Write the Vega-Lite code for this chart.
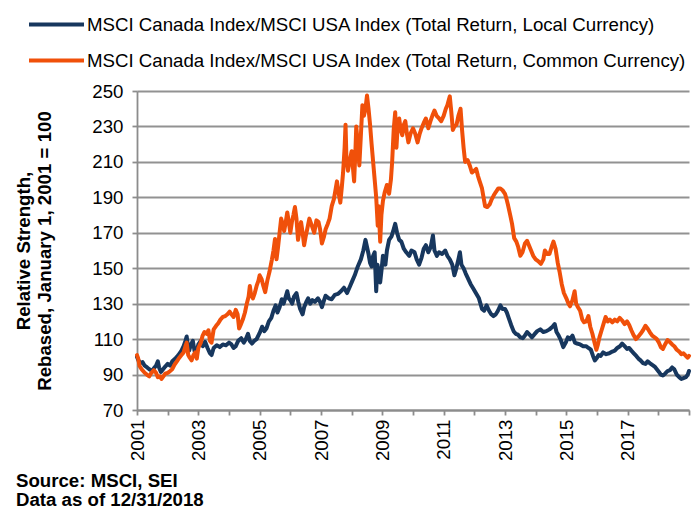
{
  "$schema": "https://vega.github.io/schema/vega-lite/v6.json",
  "width": 552,
  "height": 319,
  "autosize": "none",
  "padding": {"left": 137, "top": 91, "right": 7, "bottom": 100},
  "background": "white",
  "config": {
    "font": "Liberation Sans",
    "view": {"stroke": null},
    "axis": {
      "labelFont": "Liberation Sans",
      "labelFontSize": 18.67,
      "labelColor": "#000000",
      "domainColor": "#8c8c8c",
      "domainWidth": 1.8,
      "tickColor": "#8c8c8c",
      "tickWidth": 1.8,
      "tickSize": 5,
      "gridColor": "#929292",
      "gridWidth": 1.8
    },
    "legend": {"padding": 0}
  },
  "title": {
    "text": ["Source: MSCI, SEI", "Data as of 12/31/2018"],
    "orient": "bottom",
    "anchor": "start",
    "frame": "group",
    "dx": -121,
    "offset": 11,
    "fontSize": 18.67,
    "fontWeight": "bold",
    "lineHeight": 19,
    "color": "#000000",
    "font": "Liberation Sans"
  },
  "data": {
    "values": [
      {"year": 2001.00, "series": "Local", "value": 100},
      {"year": 2001.05, "series": "Local", "value": 98},
      {"year": 2001.10, "series": "Local", "value": 96.5},
      {"year": 2001.18, "series": "Local", "value": 97},
      {"year": 2001.25, "series": "Local", "value": 95},
      {"year": 2001.33, "series": "Local", "value": 94},
      {"year": 2001.40, "series": "Local", "value": 93},
      {"year": 2001.50, "series": "Local", "value": 92},
      {"year": 2001.55, "series": "Local", "value": 93.5},
      {"year": 2001.62, "series": "Local", "value": 95},
      {"year": 2001.68, "series": "Local", "value": 97.5},
      {"year": 2001.72, "series": "Local", "value": 94},
      {"year": 2001.78, "series": "Local", "value": 91.5},
      {"year": 2001.85, "series": "Local", "value": 93},
      {"year": 2001.92, "series": "Local", "value": 94.5},
      {"year": 2002.00, "series": "Local", "value": 96},
      {"year": 2002.08, "series": "Local", "value": 95},
      {"year": 2002.15, "series": "Local", "value": 97.5},
      {"year": 2002.25, "series": "Local", "value": 99},
      {"year": 2002.35, "series": "Local", "value": 101},
      {"year": 2002.45, "series": "Local", "value": 103.5},
      {"year": 2002.52, "series": "Local", "value": 106},
      {"year": 2002.58, "series": "Local", "value": 109},
      {"year": 2002.62, "series": "Local", "value": 111.5},
      {"year": 2002.66, "series": "Local", "value": 106},
      {"year": 2002.70, "series": "Local", "value": 103.5},
      {"year": 2002.76, "series": "Local", "value": 107},
      {"year": 2002.82, "series": "Local", "value": 109},
      {"year": 2002.88, "series": "Local", "value": 103},
      {"year": 2002.93, "series": "Local", "value": 101.5},
      {"year": 2003.00, "series": "Local", "value": 107},
      {"year": 2003.08, "series": "Local", "value": 109},
      {"year": 2003.15, "series": "Local", "value": 106},
      {"year": 2003.22, "series": "Local", "value": 108.5},
      {"year": 2003.30, "series": "Local", "value": 105},
      {"year": 2003.38, "series": "Local", "value": 102},
      {"year": 2003.43, "series": "Local", "value": 101},
      {"year": 2003.50, "series": "Local", "value": 105},
      {"year": 2003.60, "series": "Local", "value": 106.5},
      {"year": 2003.70, "series": "Local", "value": 105.5},
      {"year": 2003.80, "series": "Local", "value": 107},
      {"year": 2003.90, "series": "Local", "value": 106.5},
      {"year": 2004.00, "series": "Local", "value": 108},
      {"year": 2004.08, "series": "Local", "value": 107},
      {"year": 2004.15, "series": "Local", "value": 105},
      {"year": 2004.22, "series": "Local", "value": 106},
      {"year": 2004.30, "series": "Local", "value": 109},
      {"year": 2004.40, "series": "Local", "value": 110.5},
      {"year": 2004.48, "series": "Local", "value": 108},
      {"year": 2004.55, "series": "Local", "value": 110},
      {"year": 2004.62, "series": "Local", "value": 113},
      {"year": 2004.68, "series": "Local", "value": 109},
      {"year": 2004.75, "series": "Local", "value": 107.5},
      {"year": 2004.82, "series": "Local", "value": 109},
      {"year": 2004.90, "series": "Local", "value": 110},
      {"year": 2005.00, "series": "Local", "value": 113.5},
      {"year": 2005.08, "series": "Local", "value": 117},
      {"year": 2005.15, "series": "Local", "value": 114.5},
      {"year": 2005.22, "series": "Local", "value": 116},
      {"year": 2005.30, "series": "Local", "value": 120},
      {"year": 2005.38, "series": "Local", "value": 122},
      {"year": 2005.45, "series": "Local", "value": 126},
      {"year": 2005.52, "series": "Local", "value": 129},
      {"year": 2005.58, "series": "Local", "value": 125},
      {"year": 2005.65, "series": "Local", "value": 128},
      {"year": 2005.72, "series": "Local", "value": 132.5},
      {"year": 2005.78, "series": "Local", "value": 130},
      {"year": 2005.85, "series": "Local", "value": 134},
      {"year": 2005.90, "series": "Local", "value": 137},
      {"year": 2005.95, "series": "Local", "value": 133},
      {"year": 2006.00, "series": "Local", "value": 132},
      {"year": 2006.06, "series": "Local", "value": 130},
      {"year": 2006.12, "series": "Local", "value": 134},
      {"year": 2006.20, "series": "Local", "value": 136},
      {"year": 2006.26, "series": "Local", "value": 131},
      {"year": 2006.32, "series": "Local", "value": 127},
      {"year": 2006.40, "series": "Local", "value": 124},
      {"year": 2006.45, "series": "Local", "value": 128},
      {"year": 2006.52, "series": "Local", "value": 131},
      {"year": 2006.58, "series": "Local", "value": 133},
      {"year": 2006.65, "series": "Local", "value": 130},
      {"year": 2006.72, "series": "Local", "value": 132},
      {"year": 2006.80, "series": "Local", "value": 131},
      {"year": 2006.90, "series": "Local", "value": 133},
      {"year": 2006.97, "series": "Local", "value": 131},
      {"year": 2007.03, "series": "Local", "value": 128},
      {"year": 2007.10, "series": "Local", "value": 132},
      {"year": 2007.15, "series": "Local", "value": 134.5},
      {"year": 2007.25, "series": "Local", "value": 133},
      {"year": 2007.35, "series": "Local", "value": 132.5},
      {"year": 2007.45, "series": "Local", "value": 135},
      {"year": 2007.55, "series": "Local", "value": 135.5},
      {"year": 2007.65, "series": "Local", "value": 137},
      {"year": 2007.75, "series": "Local", "value": 139},
      {"year": 2007.85, "series": "Local", "value": 136},
      {"year": 2007.95, "series": "Local", "value": 140},
      {"year": 2008.00, "series": "Local", "value": 142},
      {"year": 2008.10, "series": "Local", "value": 146},
      {"year": 2008.20, "series": "Local", "value": 151},
      {"year": 2008.30, "series": "Local", "value": 155},
      {"year": 2008.38, "series": "Local", "value": 160},
      {"year": 2008.45, "series": "Local", "value": 166},
      {"year": 2008.50, "series": "Local", "value": 162},
      {"year": 2008.55, "series": "Local", "value": 158},
      {"year": 2008.60, "series": "Local", "value": 153},
      {"year": 2008.65, "series": "Local", "value": 151},
      {"year": 2008.70, "series": "Local", "value": 157},
      {"year": 2008.75, "series": "Local", "value": 159},
      {"year": 2008.80, "series": "Local", "value": 137},
      {"year": 2008.84, "series": "Local", "value": 152},
      {"year": 2008.88, "series": "Local", "value": 148},
      {"year": 2008.93, "series": "Local", "value": 142},
      {"year": 2008.98, "series": "Local", "value": 150},
      {"year": 2009.02, "series": "Local", "value": 157},
      {"year": 2009.10, "series": "Local", "value": 152},
      {"year": 2009.15, "series": "Local", "value": 160},
      {"year": 2009.22, "series": "Local", "value": 166},
      {"year": 2009.30, "series": "Local", "value": 168},
      {"year": 2009.37, "series": "Local", "value": 172},
      {"year": 2009.42, "series": "Local", "value": 175},
      {"year": 2009.48, "series": "Local", "value": 170},
      {"year": 2009.55, "series": "Local", "value": 166},
      {"year": 2009.62, "series": "Local", "value": 165},
      {"year": 2009.70, "series": "Local", "value": 161},
      {"year": 2009.78, "series": "Local", "value": 159},
      {"year": 2009.88, "series": "Local", "value": 157},
      {"year": 2009.95, "series": "Local", "value": 160},
      {"year": 2010.05, "series": "Local", "value": 159},
      {"year": 2010.12, "series": "Local", "value": 155},
      {"year": 2010.20, "series": "Local", "value": 152},
      {"year": 2010.28, "series": "Local", "value": 156},
      {"year": 2010.35, "series": "Local", "value": 161},
      {"year": 2010.42, "series": "Local", "value": 163},
      {"year": 2010.50, "series": "Local", "value": 159},
      {"year": 2010.58, "series": "Local", "value": 162},
      {"year": 2010.65, "series": "Local", "value": 168.5},
      {"year": 2010.70, "series": "Local", "value": 160},
      {"year": 2010.78, "series": "Local", "value": 157},
      {"year": 2010.85, "series": "Local", "value": 159},
      {"year": 2010.95, "series": "Local", "value": 158},
      {"year": 2011.05, "series": "Local", "value": 160},
      {"year": 2011.12, "series": "Local", "value": 157},
      {"year": 2011.20, "series": "Local", "value": 155},
      {"year": 2011.28, "series": "Local", "value": 152},
      {"year": 2011.35, "series": "Local", "value": 146},
      {"year": 2011.40, "series": "Local", "value": 149},
      {"year": 2011.48, "series": "Local", "value": 155},
      {"year": 2011.53, "series": "Local", "value": 159},
      {"year": 2011.58, "series": "Local", "value": 152},
      {"year": 2011.65, "series": "Local", "value": 150},
      {"year": 2011.72, "series": "Local", "value": 147},
      {"year": 2011.80, "series": "Local", "value": 144},
      {"year": 2011.88, "series": "Local", "value": 141},
      {"year": 2011.95, "series": "Local", "value": 139},
      {"year": 2012.05, "series": "Local", "value": 136},
      {"year": 2012.15, "series": "Local", "value": 133},
      {"year": 2012.25, "series": "Local", "value": 127},
      {"year": 2012.32, "series": "Local", "value": 126},
      {"year": 2012.40, "series": "Local", "value": 129},
      {"year": 2012.48, "series": "Local", "value": 126},
      {"year": 2012.55, "series": "Local", "value": 124},
      {"year": 2012.62, "series": "Local", "value": 123},
      {"year": 2012.70, "series": "Local", "value": 124},
      {"year": 2012.77, "series": "Local", "value": 126},
      {"year": 2012.85, "series": "Local", "value": 129},
      {"year": 2012.92, "series": "Local", "value": 127},
      {"year": 2013.00, "series": "Local", "value": 127},
      {"year": 2013.06, "series": "Local", "value": 125},
      {"year": 2013.12, "series": "Local", "value": 122},
      {"year": 2013.20, "series": "Local", "value": 118},
      {"year": 2013.28, "series": "Local", "value": 114.5},
      {"year": 2013.35, "series": "Local", "value": 113},
      {"year": 2013.42, "series": "Local", "value": 112.5},
      {"year": 2013.50, "series": "Local", "value": 111},
      {"year": 2013.58, "series": "Local", "value": 110.5},
      {"year": 2013.65, "series": "Local", "value": 112},
      {"year": 2013.72, "series": "Local", "value": 114},
      {"year": 2013.80, "series": "Local", "value": 112.5},
      {"year": 2013.88, "series": "Local", "value": 111},
      {"year": 2013.95, "series": "Local", "value": 112.5},
      {"year": 2014.05, "series": "Local", "value": 114.5},
      {"year": 2014.15, "series": "Local", "value": 115.5},
      {"year": 2014.25, "series": "Local", "value": 114},
      {"year": 2014.35, "series": "Local", "value": 114.5},
      {"year": 2014.45, "series": "Local", "value": 115.5},
      {"year": 2014.55, "series": "Local", "value": 117},
      {"year": 2014.62, "series": "Local", "value": 118.5},
      {"year": 2014.68, "series": "Local", "value": 114},
      {"year": 2014.75, "series": "Local", "value": 112},
      {"year": 2014.82, "series": "Local", "value": 109.5},
      {"year": 2014.90, "series": "Local", "value": 105.5},
      {"year": 2014.98, "series": "Local", "value": 108},
      {"year": 2015.05, "series": "Local", "value": 111},
      {"year": 2015.12, "series": "Local", "value": 110},
      {"year": 2015.20, "series": "Local", "value": 112},
      {"year": 2015.28, "series": "Local", "value": 108},
      {"year": 2015.35, "series": "Local", "value": 107.5},
      {"year": 2015.45, "series": "Local", "value": 107},
      {"year": 2015.55, "series": "Local", "value": 106},
      {"year": 2015.65, "series": "Local", "value": 106},
      {"year": 2015.72, "series": "Local", "value": 105},
      {"year": 2015.80, "series": "Local", "value": 104},
      {"year": 2015.87, "series": "Local", "value": 100.5},
      {"year": 2015.93, "series": "Local", "value": 98},
      {"year": 2016.00, "series": "Local", "value": 99.5},
      {"year": 2016.05, "series": "Local", "value": 101},
      {"year": 2016.12, "series": "Local", "value": 100.5},
      {"year": 2016.20, "series": "Local", "value": 102.5},
      {"year": 2016.30, "series": "Local", "value": 101.5},
      {"year": 2016.40, "series": "Local", "value": 102},
      {"year": 2016.50, "series": "Local", "value": 103},
      {"year": 2016.58, "series": "Local", "value": 103.5},
      {"year": 2016.66, "series": "Local", "value": 105},
      {"year": 2016.75, "series": "Local", "value": 106},
      {"year": 2016.82, "series": "Local", "value": 107.5},
      {"year": 2016.90, "series": "Local", "value": 106},
      {"year": 2016.98, "series": "Local", "value": 104.5},
      {"year": 2017.05, "series": "Local", "value": 105},
      {"year": 2017.12, "series": "Local", "value": 103.5},
      {"year": 2017.20, "series": "Local", "value": 102},
      {"year": 2017.28, "series": "Local", "value": 100.5},
      {"year": 2017.35, "series": "Local", "value": 99},
      {"year": 2017.42, "series": "Local", "value": 98},
      {"year": 2017.50, "series": "Local", "value": 96.5},
      {"year": 2017.58, "series": "Local", "value": 96},
      {"year": 2017.65, "series": "Local", "value": 97.5},
      {"year": 2017.72, "series": "Local", "value": 96.5},
      {"year": 2017.80, "series": "Local", "value": 95.5},
      {"year": 2017.88, "series": "Local", "value": 94.5},
      {"year": 2017.95, "series": "Local", "value": 93},
      {"year": 2018.02, "series": "Local", "value": 91.5},
      {"year": 2018.08, "series": "Local", "value": 90},
      {"year": 2018.15, "series": "Local", "value": 89.5},
      {"year": 2018.22, "series": "Local", "value": 90.5},
      {"year": 2018.30, "series": "Local", "value": 92},
      {"year": 2018.38, "series": "Local", "value": 92.5},
      {"year": 2018.45, "series": "Local", "value": 94},
      {"year": 2018.52, "series": "Local", "value": 93},
      {"year": 2018.60, "series": "Local", "value": 90},
      {"year": 2018.68, "series": "Local", "value": 88.5},
      {"year": 2018.75, "series": "Local", "value": 87.5},
      {"year": 2018.82, "series": "Local", "value": 88},
      {"year": 2018.90, "series": "Local", "value": 88.5},
      {"year": 2018.96, "series": "Local", "value": 90},
      {"year": 2019.00, "series": "Local", "value": 92},
      {"year": 2001.00, "series": "Common", "value": 101},
      {"year": 2001.04, "series": "Common", "value": 99},
      {"year": 2001.08, "series": "Common", "value": 95},
      {"year": 2001.15, "series": "Common", "value": 93},
      {"year": 2001.25, "series": "Common", "value": 91},
      {"year": 2001.32, "series": "Common", "value": 90},
      {"year": 2001.40, "series": "Common", "value": 89},
      {"year": 2001.47, "series": "Common", "value": 91},
      {"year": 2001.55, "series": "Common", "value": 92.5},
      {"year": 2001.62, "series": "Common", "value": 91},
      {"year": 2001.68, "series": "Common", "value": 88.5},
      {"year": 2001.75, "series": "Common", "value": 89},
      {"year": 2001.80, "series": "Common", "value": 87.5},
      {"year": 2001.86, "series": "Common", "value": 89},
      {"year": 2001.92, "series": "Common", "value": 90.5},
      {"year": 2002.00, "series": "Common", "value": 91},
      {"year": 2002.08, "series": "Common", "value": 92},
      {"year": 2002.15, "series": "Common", "value": 93},
      {"year": 2002.22, "series": "Common", "value": 95.5},
      {"year": 2002.30, "series": "Common", "value": 97.5},
      {"year": 2002.38, "series": "Common", "value": 99.5},
      {"year": 2002.45, "series": "Common", "value": 101},
      {"year": 2002.52, "series": "Common", "value": 102.5},
      {"year": 2002.58, "series": "Common", "value": 106},
      {"year": 2002.62, "series": "Common", "value": 108},
      {"year": 2002.67, "series": "Common", "value": 101},
      {"year": 2002.72, "series": "Common", "value": 99.5},
      {"year": 2002.78, "series": "Common", "value": 98},
      {"year": 2002.84, "series": "Common", "value": 101},
      {"year": 2002.90, "series": "Common", "value": 102.5},
      {"year": 2002.95, "series": "Common", "value": 99},
      {"year": 2003.00, "series": "Common", "value": 105},
      {"year": 2003.08, "series": "Common", "value": 108},
      {"year": 2003.14, "series": "Common", "value": 112},
      {"year": 2003.20, "series": "Common", "value": 114},
      {"year": 2003.27, "series": "Common", "value": 113},
      {"year": 2003.33, "series": "Common", "value": 115},
      {"year": 2003.38, "series": "Common", "value": 109},
      {"year": 2003.43, "series": "Common", "value": 108},
      {"year": 2003.50, "series": "Common", "value": 115.5},
      {"year": 2003.58, "series": "Common", "value": 117.5},
      {"year": 2003.65, "series": "Common", "value": 119},
      {"year": 2003.72, "series": "Common", "value": 121},
      {"year": 2003.80, "series": "Common", "value": 122.5},
      {"year": 2003.88, "series": "Common", "value": 123},
      {"year": 2003.95, "series": "Common", "value": 124},
      {"year": 2004.02, "series": "Common", "value": 125.5},
      {"year": 2004.08, "series": "Common", "value": 124},
      {"year": 2004.15, "series": "Common", "value": 122.5},
      {"year": 2004.22, "series": "Common", "value": 126.5},
      {"year": 2004.28, "series": "Common", "value": 124},
      {"year": 2004.33, "series": "Common", "value": 116},
      {"year": 2004.38, "series": "Common", "value": 118},
      {"year": 2004.45, "series": "Common", "value": 121},
      {"year": 2004.52, "series": "Common", "value": 125},
      {"year": 2004.58, "series": "Common", "value": 130},
      {"year": 2004.64, "series": "Common", "value": 134},
      {"year": 2004.68, "series": "Common", "value": 140},
      {"year": 2004.72, "series": "Common", "value": 135},
      {"year": 2004.78, "series": "Common", "value": 133},
      {"year": 2004.84, "series": "Common", "value": 136},
      {"year": 2004.90, "series": "Common", "value": 140},
      {"year": 2004.96, "series": "Common", "value": 143},
      {"year": 2005.00, "series": "Common", "value": 146},
      {"year": 2005.06, "series": "Common", "value": 144},
      {"year": 2005.12, "series": "Common", "value": 140},
      {"year": 2005.18, "series": "Common", "value": 136.5},
      {"year": 2005.25, "series": "Common", "value": 143},
      {"year": 2005.32, "series": "Common", "value": 148},
      {"year": 2005.40, "series": "Common", "value": 155},
      {"year": 2005.45, "series": "Common", "value": 160},
      {"year": 2005.50, "series": "Common", "value": 166.5},
      {"year": 2005.55, "series": "Common", "value": 155},
      {"year": 2005.60, "series": "Common", "value": 162},
      {"year": 2005.65, "series": "Common", "value": 170},
      {"year": 2005.70, "series": "Common", "value": 178},
      {"year": 2005.75, "series": "Common", "value": 175},
      {"year": 2005.80, "series": "Common", "value": 171},
      {"year": 2005.85, "series": "Common", "value": 176},
      {"year": 2005.90, "series": "Common", "value": 181.5},
      {"year": 2005.95, "series": "Common", "value": 176},
      {"year": 2006.00, "series": "Common", "value": 170},
      {"year": 2006.05, "series": "Common", "value": 176},
      {"year": 2006.10, "series": "Common", "value": 180},
      {"year": 2006.15, "series": "Common", "value": 184.5},
      {"year": 2006.20, "series": "Common", "value": 178},
      {"year": 2006.25, "series": "Common", "value": 166},
      {"year": 2006.30, "series": "Common", "value": 171},
      {"year": 2006.35, "series": "Common", "value": 176},
      {"year": 2006.40, "series": "Common", "value": 170},
      {"year": 2006.45, "series": "Common", "value": 163},
      {"year": 2006.50, "series": "Common", "value": 168},
      {"year": 2006.55, "series": "Common", "value": 172},
      {"year": 2006.62, "series": "Common", "value": 178},
      {"year": 2006.70, "series": "Common", "value": 174},
      {"year": 2006.78, "series": "Common", "value": 170},
      {"year": 2006.85, "series": "Common", "value": 177},
      {"year": 2006.92, "series": "Common", "value": 176},
      {"year": 2006.97, "series": "Common", "value": 172},
      {"year": 2007.03, "series": "Common", "value": 164},
      {"year": 2007.10, "series": "Common", "value": 168},
      {"year": 2007.15, "series": "Common", "value": 172},
      {"year": 2007.22, "series": "Common", "value": 175},
      {"year": 2007.28, "series": "Common", "value": 178},
      {"year": 2007.35, "series": "Common", "value": 185},
      {"year": 2007.42, "series": "Common", "value": 189},
      {"year": 2007.48, "series": "Common", "value": 195},
      {"year": 2007.52, "series": "Common", "value": 199},
      {"year": 2007.58, "series": "Common", "value": 192},
      {"year": 2007.63, "series": "Common", "value": 187},
      {"year": 2007.68, "series": "Common", "value": 196},
      {"year": 2007.72, "series": "Common", "value": 204},
      {"year": 2007.77, "series": "Common", "value": 218},
      {"year": 2007.80, "series": "Common", "value": 231},
      {"year": 2007.83, "series": "Common", "value": 212},
      {"year": 2007.88, "series": "Common", "value": 205},
      {"year": 2007.93, "series": "Common", "value": 210},
      {"year": 2008.00, "series": "Common", "value": 216},
      {"year": 2008.05, "series": "Common", "value": 205},
      {"year": 2008.08, "series": "Common", "value": 199},
      {"year": 2008.12, "series": "Common", "value": 215},
      {"year": 2008.15, "series": "Common", "value": 230},
      {"year": 2008.20, "series": "Common", "value": 220},
      {"year": 2008.25, "series": "Common", "value": 208},
      {"year": 2008.30, "series": "Common", "value": 225},
      {"year": 2008.35, "series": "Common", "value": 242},
      {"year": 2008.40, "series": "Common", "value": 236},
      {"year": 2008.45, "series": "Common", "value": 240},
      {"year": 2008.50, "series": "Common", "value": 247.5},
      {"year": 2008.55, "series": "Common", "value": 240},
      {"year": 2008.60, "series": "Common", "value": 231},
      {"year": 2008.65, "series": "Common", "value": 220},
      {"year": 2008.70, "series": "Common", "value": 210},
      {"year": 2008.75, "series": "Common", "value": 200},
      {"year": 2008.80, "series": "Common", "value": 190},
      {"year": 2008.85, "series": "Common", "value": 174},
      {"year": 2008.88, "series": "Common", "value": 185},
      {"year": 2008.93, "series": "Common", "value": 165},
      {"year": 2008.97, "series": "Common", "value": 180},
      {"year": 2009.02, "series": "Common", "value": 188},
      {"year": 2009.08, "series": "Common", "value": 193},
      {"year": 2009.15, "series": "Common", "value": 197},
      {"year": 2009.22, "series": "Common", "value": 192},
      {"year": 2009.28, "series": "Common", "value": 200},
      {"year": 2009.32, "series": "Common", "value": 210},
      {"year": 2009.37, "series": "Common", "value": 228},
      {"year": 2009.42, "series": "Common", "value": 238},
      {"year": 2009.46, "series": "Common", "value": 218},
      {"year": 2009.50, "series": "Common", "value": 230},
      {"year": 2009.55, "series": "Common", "value": 234.5},
      {"year": 2009.60, "series": "Common", "value": 228},
      {"year": 2009.65, "series": "Common", "value": 225},
      {"year": 2009.70, "series": "Common", "value": 231},
      {"year": 2009.75, "series": "Common", "value": 233},
      {"year": 2009.80, "series": "Common", "value": 226},
      {"year": 2009.85, "series": "Common", "value": 221},
      {"year": 2009.92, "series": "Common", "value": 226},
      {"year": 2010.00, "series": "Common", "value": 229},
      {"year": 2010.07, "series": "Common", "value": 226},
      {"year": 2010.15, "series": "Common", "value": 221},
      {"year": 2010.22, "series": "Common", "value": 226},
      {"year": 2010.28, "series": "Common", "value": 229},
      {"year": 2010.35, "series": "Common", "value": 232},
      {"year": 2010.42, "series": "Common", "value": 234.5},
      {"year": 2010.50, "series": "Common", "value": 229},
      {"year": 2010.57, "series": "Common", "value": 233},
      {"year": 2010.63, "series": "Common", "value": 236},
      {"year": 2010.70, "series": "Common", "value": 239},
      {"year": 2010.77, "series": "Common", "value": 236},
      {"year": 2010.85, "series": "Common", "value": 234.5},
      {"year": 2010.92, "series": "Common", "value": 233},
      {"year": 2011.00, "series": "Common", "value": 236},
      {"year": 2011.07, "series": "Common", "value": 240},
      {"year": 2011.12, "series": "Common", "value": 242},
      {"year": 2011.20, "series": "Common", "value": 247},
      {"year": 2011.25, "series": "Common", "value": 238},
      {"year": 2011.30, "series": "Common", "value": 228},
      {"year": 2011.35, "series": "Common", "value": 230},
      {"year": 2011.42, "series": "Common", "value": 231},
      {"year": 2011.48, "series": "Common", "value": 236},
      {"year": 2011.55, "series": "Common", "value": 240},
      {"year": 2011.60, "series": "Common", "value": 228},
      {"year": 2011.65, "series": "Common", "value": 218},
      {"year": 2011.70, "series": "Common", "value": 210},
      {"year": 2011.78, "series": "Common", "value": 211},
      {"year": 2011.85, "series": "Common", "value": 208},
      {"year": 2011.92, "series": "Common", "value": 204},
      {"year": 2012.00, "series": "Common", "value": 205},
      {"year": 2012.06, "series": "Common", "value": 206},
      {"year": 2012.12, "series": "Common", "value": 202},
      {"year": 2012.18, "series": "Common", "value": 198.7},
      {"year": 2012.25, "series": "Common", "value": 195},
      {"year": 2012.30, "series": "Common", "value": 190},
      {"year": 2012.35, "series": "Common", "value": 185},
      {"year": 2012.42, "series": "Common", "value": 184.5},
      {"year": 2012.50, "series": "Common", "value": 186},
      {"year": 2012.57, "series": "Common", "value": 189},
      {"year": 2012.63, "series": "Common", "value": 191},
      {"year": 2012.70, "series": "Common", "value": 193},
      {"year": 2012.78, "series": "Common", "value": 195},
      {"year": 2012.85, "series": "Common", "value": 195},
      {"year": 2012.92, "series": "Common", "value": 194},
      {"year": 2013.00, "series": "Common", "value": 192},
      {"year": 2013.05, "series": "Common", "value": 189},
      {"year": 2013.10, "series": "Common", "value": 185.5},
      {"year": 2013.17, "series": "Common", "value": 180},
      {"year": 2013.23, "series": "Common", "value": 175},
      {"year": 2013.30, "series": "Common", "value": 167},
      {"year": 2013.37, "series": "Common", "value": 165},
      {"year": 2013.43, "series": "Common", "value": 162},
      {"year": 2013.50, "series": "Common", "value": 157},
      {"year": 2013.57, "series": "Common", "value": 159},
      {"year": 2013.65, "series": "Common", "value": 164},
      {"year": 2013.72, "series": "Common", "value": 165.5},
      {"year": 2013.78, "series": "Common", "value": 163},
      {"year": 2013.85, "series": "Common", "value": 160},
      {"year": 2013.92, "series": "Common", "value": 157},
      {"year": 2014.00, "series": "Common", "value": 155},
      {"year": 2014.08, "series": "Common", "value": 154},
      {"year": 2014.17, "series": "Common", "value": 152.5},
      {"year": 2014.25, "series": "Common", "value": 155},
      {"year": 2014.30, "series": "Common", "value": 160},
      {"year": 2014.38, "series": "Common", "value": 158},
      {"year": 2014.45, "series": "Common", "value": 158},
      {"year": 2014.52, "series": "Common", "value": 162},
      {"year": 2014.58, "series": "Common", "value": 165},
      {"year": 2014.65, "series": "Common", "value": 161},
      {"year": 2014.72, "series": "Common", "value": 153},
      {"year": 2014.78, "series": "Common", "value": 148},
      {"year": 2014.85, "series": "Common", "value": 141},
      {"year": 2014.92, "series": "Common", "value": 136},
      {"year": 2015.00, "series": "Common", "value": 133},
      {"year": 2015.07, "series": "Common", "value": 130},
      {"year": 2015.12, "series": "Common", "value": 128.5},
      {"year": 2015.20, "series": "Common", "value": 132},
      {"year": 2015.27, "series": "Common", "value": 137},
      {"year": 2015.32, "series": "Common", "value": 130},
      {"year": 2015.38, "series": "Common", "value": 128},
      {"year": 2015.45, "series": "Common", "value": 126},
      {"year": 2015.52, "series": "Common", "value": 121},
      {"year": 2015.58, "series": "Common", "value": 119.5},
      {"year": 2015.65, "series": "Common", "value": 120},
      {"year": 2015.72, "series": "Common", "value": 123},
      {"year": 2015.78, "series": "Common", "value": 117},
      {"year": 2015.85, "series": "Common", "value": 113},
      {"year": 2015.92, "series": "Common", "value": 108},
      {"year": 2015.98, "series": "Common", "value": 104},
      {"year": 2016.03, "series": "Common", "value": 107},
      {"year": 2016.08, "series": "Common", "value": 111},
      {"year": 2016.15, "series": "Common", "value": 115},
      {"year": 2016.22, "series": "Common", "value": 119},
      {"year": 2016.28, "series": "Common", "value": 122.5},
      {"year": 2016.35, "series": "Common", "value": 120},
      {"year": 2016.42, "series": "Common", "value": 121},
      {"year": 2016.50, "series": "Common", "value": 119.5},
      {"year": 2016.58, "series": "Common", "value": 121},
      {"year": 2016.66, "series": "Common", "value": 120},
      {"year": 2016.74, "series": "Common", "value": 122},
      {"year": 2016.82, "series": "Common", "value": 120.5},
      {"year": 2016.90, "series": "Common", "value": 118.5},
      {"year": 2016.98, "series": "Common", "value": 120},
      {"year": 2017.05, "series": "Common", "value": 118},
      {"year": 2017.12, "series": "Common", "value": 115},
      {"year": 2017.20, "series": "Common", "value": 112},
      {"year": 2017.27, "series": "Common", "value": 110},
      {"year": 2017.35, "series": "Common", "value": 111.5},
      {"year": 2017.42, "series": "Common", "value": 113},
      {"year": 2017.50, "series": "Common", "value": 115},
      {"year": 2017.58, "series": "Common", "value": 117.5},
      {"year": 2017.65, "series": "Common", "value": 116},
      {"year": 2017.72, "series": "Common", "value": 114},
      {"year": 2017.80, "series": "Common", "value": 112},
      {"year": 2017.88, "series": "Common", "value": 111},
      {"year": 2017.95, "series": "Common", "value": 110},
      {"year": 2018.02, "series": "Common", "value": 108},
      {"year": 2018.08, "series": "Common", "value": 105.5},
      {"year": 2018.15, "series": "Common", "value": 104.5},
      {"year": 2018.22, "series": "Common", "value": 107},
      {"year": 2018.30, "series": "Common", "value": 109.5},
      {"year": 2018.37, "series": "Common", "value": 108.5},
      {"year": 2018.45, "series": "Common", "value": 107},
      {"year": 2018.52, "series": "Common", "value": 106},
      {"year": 2018.60, "series": "Common", "value": 104},
      {"year": 2018.68, "series": "Common", "value": 103},
      {"year": 2018.75, "series": "Common", "value": 101.5},
      {"year": 2018.82, "series": "Common", "value": 102},
      {"year": 2018.90, "series": "Common", "value": 100.5},
      {"year": 2018.96, "series": "Common", "value": 99.5},
      {"year": 2019.00, "series": "Common", "value": 100.5}
    ]
  },
  "encoding": {
    "x": {
      "field": "year",
      "type": "quantitative",
      "scale": {"domain": [2001, 2019], "nice": false, "zero": false},
      "axis": {
        "title": null,
        "grid": false,
        "values": [2001, 2002, 2003, 2004, 2005, 2006, 2007, 2008, 2009, 2010, 2011, 2012, 2013, 2014, 2015, 2016, 2017, 2018, 2019],
        "labelExpr": "(datum.value % 2 == 1 && datum.value < 2018) ? format(datum.value, 'd') : ''",
        "labelAngle": -90,
        "labelAlign": "right",
        "labelBaseline": "middle",
        "labelPadding": 4,
        "labelOverlap": false,
        "labelFlush": false
      }
    },
    "y": {
      "field": "value",
      "type": "quantitative",
      "scale": {"domain": [70, 250], "nice": false, "zero": false},
      "axis": {
        "values": [70, 90, 110, 130, 150, 170, 190, 210, 230, 250],
        "grid": true,
        "labelPadding": 9,
        "title": ["Relative Strength,", "Rebased, January 1, 2001 = 100"],
        "titleFontSize": 18.67,
        "titleFontWeight": "bold",
        "titleColor": "#000000",
        "titleFont": "Liberation Sans",
        "titleLineHeight": 21,
        "titlePadding": 37
      }
    },
    "color": {
      "field": "series",
      "type": "nominal",
      "scale": {"domain": ["Local", "Common"], "range": ["#17375e", "#f0500a"]},
      "legend": {
        "title": null,
        "orient": "none",
        "legendX": -106,
        "legendY": -92,
        "symbolType": "M-1.17,0H1.17",
        "symbolSize": 2209,
        "symbolStrokeWidth": 4,
        "labelFontSize": 18.67,
        "labelColor": "#000000",
        "labelFont": "Liberation Sans",
        "labelOffset": 5,
        "rowPadding": 0,
        "labelLimit": 700,
        "labelExpr": "datum.label == 'Local' ? 'MSCI Canada Index/MSCI USA Index (Total Return, Local Currency)' : 'MSCI Canada Index/MSCI USA Index (Total Return, Common Currency)'"
      }
    }
  },
  "layer": [
    {
      "transform": [{"filter": "datum.series == 'Local'"}],
      "mark": {"type": "line", "strokeWidth": 4, "strokeJoin": "round", "strokeCap": "round"}
    },
    {
      "transform": [{"filter": "datum.series == 'Common'"}],
      "mark": {"type": "line", "strokeWidth": 4, "strokeJoin": "round", "strokeCap": "round"}
    }
  ]
}
